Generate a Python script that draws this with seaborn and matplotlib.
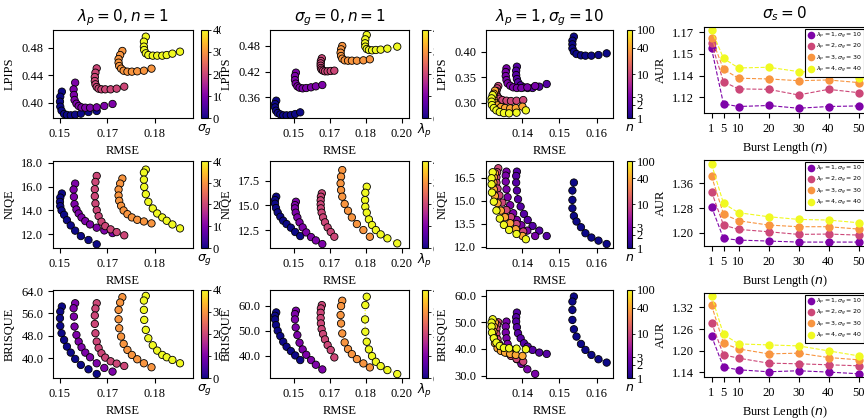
import numpy as np
import pandas as pd
import matplotlib
matplotlib.use("Agg")
import matplotlib.pyplot as plt
import seaborn as sns
from matplotlib.colors import LogNorm, Normalize
from matplotlib.lines import Line2D
from matplotlib.cm import ScalarMappable
from matplotlib.transforms import Bbox, TransformedBbox
from matplotlib.ticker import NullLocator

# ---------------- data: column 1 (sigma_g sweep, lambda_p=0, n=1) ----------------
SIGMA_G = [0, 10, 20, 30, 40]
C1_RMSE = [
    [0.1506, 0.1501, 0.1500, 0.1501, 0.1505, 0.1513, 0.1522, 0.1534, 0.1548, 0.1566, 0.1590, 0.1616],
    [0.1548, 0.1543, 0.1544, 0.1546, 0.1552, 0.1559, 0.1568, 0.1580, 0.1595, 0.1616, 0.1640, 0.1666],
    [0.1616, 0.1612, 0.1610, 0.1610, 0.1612, 0.1616, 0.1622, 0.1631, 0.1643, 0.1660, 0.1679, 0.1703],
    [0.1697, 0.1690, 0.1685, 0.1685, 0.1687, 0.1693, 0.1701, 0.1713, 0.1727, 0.1744, 0.1765, 0.1789],
    [0.1771, 0.1765, 0.1765, 0.1766, 0.1771, 0.1779, 0.1793, 0.1807, 0.1823, 0.1837, 0.1855, 0.1879],
]
C1_LPIPS = [
    [0.4160, 0.4087, 0.4015, 0.3942, 0.3884, 0.3835, 0.3821, 0.3816, 0.3825, 0.3840, 0.3864, 0.3879],
    [0.4291, 0.4194, 0.4112, 0.4039, 0.3985, 0.3952, 0.3932, 0.3927, 0.3927, 0.3932, 0.3952, 0.3981],
    [0.4499, 0.4436, 0.4373, 0.4315, 0.4267, 0.4228, 0.4204, 0.4194, 0.4194, 0.4194, 0.4204, 0.4233],
    [0.4752, 0.4693, 0.4635, 0.4582, 0.4533, 0.4495, 0.4465, 0.4451, 0.4451, 0.4456, 0.4465, 0.4495],
    [0.4960, 0.4887, 0.4815, 0.4766, 0.4718, 0.4693, 0.4684, 0.4684, 0.4684, 0.4693, 0.4713, 0.4742],
]
C1_NIQE = [
    [15.42, 15.08, 14.72, 14.36, 14.00, 13.64, 13.19, 12.75, 12.31, 11.86, 11.53, 11.17],
    [16.25, 15.75, 15.14, 14.53, 14.08, 13.75, 13.42, 13.11, 12.83, 12.56, 12.33, 12.11],
    [16.89, 16.39, 15.78, 15.19, 14.58, 14.03, 13.53, 13.06, 12.69, 12.42, 12.19, 11.92],
    [16.67, 16.25, 15.75, 15.25, 14.81, 14.39, 14.00, 13.69, 13.42, 13.22, 13.08, 12.92],
    [17.42, 17.17, 16.58, 15.97, 15.36, 14.72, 14.17, 13.75, 13.42, 13.14, 12.83, 12.50],
]
C1_BRISQUE = [
    [58.45, 56.67, 54.29, 51.55, 48.93, 46.55, 44.17, 42.02, 39.76, 37.62, 36.07, 34.40],
    [59.64, 57.86, 54.88, 51.31, 48.33, 45.95, 43.93, 42.02, 40.36, 38.21, 36.55, 35.24],
    [59.64, 57.74, 55.24, 52.26, 48.93, 45.95, 43.69, 41.79, 40.24, 38.93, 38.10, 37.26],
    [61.79, 59.88, 57.26, 53.93, 50.71, 47.74, 45.12, 42.98, 41.19, 39.64, 38.21, 36.79],
    [62.26, 60.60, 57.26, 53.69, 50.12, 47.14, 44.64, 42.74, 41.19, 40.36, 39.40, 38.21],
]

# ---------------- data: column 2 (lambda_p sweep, sigma_g=0, n=1) ----------------
LAMBDA_P = [0, 1, 2, 3, 4]
C2_RMSE = [
    [0.1427, 0.1422, 0.1422, 0.1426, 0.1433, 0.1444, 0.1456, 0.1470, 0.1488, 0.1506, 0.1527],
    [0.1509, 0.1505, 0.1505, 0.1508, 0.1515, 0.1524, 0.1537, 0.1552, 0.1572, 0.1592, 0.1619],
    [0.1617, 0.1613, 0.1612, 0.1612, 0.1613, 0.1616, 0.1622, 0.1630, 0.1641, 0.1654, 0.1669],
    [0.1702, 0.1697, 0.1695, 0.1697, 0.1702, 0.1712, 0.1726, 0.1742, 0.1763, 0.1790, 0.1817],
    [0.1804, 0.1798, 0.1797, 0.1798, 0.1804, 0.1813, 0.1826, 0.1842, 0.1862, 0.1890, 0.1931],
]
C2_LPIPS = [
    [0.3522, 0.3444, 0.3366, 0.3288, 0.3234, 0.3202, 0.3179, 0.3179, 0.3187, 0.3210, 0.3249],
    [0.4177, 0.4099, 0.4005, 0.3920, 0.3857, 0.3826, 0.3810, 0.3818, 0.3834, 0.3857, 0.3888],
    [0.4512, 0.4450, 0.4395, 0.4340, 0.4286, 0.4247, 0.4224, 0.4208, 0.4208, 0.4216, 0.4224],
    [0.4800, 0.4722, 0.4644, 0.4566, 0.4504, 0.4465, 0.4457, 0.4457, 0.4457, 0.4465, 0.4489],
    [0.5058, 0.4956, 0.4863, 0.4785, 0.4730, 0.4707, 0.4699, 0.4707, 0.4715, 0.4738, 0.4785],
]
C2_NIQE = [
    [15.88, 15.54, 15.17, 14.73, 14.29, 13.85, 13.45, 13.11, 12.74, 12.30, 11.89],
    [15.37, 15.03, 14.70, 14.26, 13.78, 13.28, 12.77, 12.26, 11.79, 11.45, 11.08],
    [16.22, 15.88, 15.51, 15.10, 14.70, 14.26, 13.78, 13.28, 12.77, 12.30, 11.82],
    [18.58, 17.91, 17.23, 16.55, 15.88, 15.14, 14.46, 13.78, 13.11, 12.50, 11.82],
    [16.89, 16.28, 15.54, 14.86, 14.26, 13.58, 13.01, 12.50, 12.06, 11.66, 11.15],
]
C2_BRISQUE = [
    [57.33, 56.00, 54.53, 52.27, 50.00, 47.87, 45.60, 43.60, 41.87, 40.13, 38.27],
    [58.00, 56.67, 54.53, 51.33, 48.27, 45.20, 42.53, 40.40, 38.27, 36.40, 34.53],
    [60.27, 58.93, 57.20, 55.07, 52.93, 50.67, 48.67, 46.53, 44.27, 42.27, 39.33],
    [62.00, 59.87, 56.27, 52.93, 48.93, 45.33, 42.67, 40.67, 38.67, 36.93, 35.33],
    [63.60, 60.27, 54.53, 49.60, 45.60, 42.53, 39.87, 37.60, 35.87, 34.27, 32.67],
]

# ---------------- data: column 3 (burst length sweep, lambda_p=1, sigma_g=10) ----------------
BURST_N = [1, 2, 3, 10, 40, 100]
C3_RMSE = [
    [0.1539, 0.1535, 0.1535, 0.1535, 0.1539, 0.1546, 0.1558, 0.1570, 0.1586, 0.1605, 0.1627],
    [0.1386, 0.1384, 0.1384, 0.1386, 0.1389, 0.1396, 0.1405, 0.1415, 0.1428, 0.1446, 0.1466],
    [0.1358, 0.1356, 0.1356, 0.1358, 0.1361, 0.1368, 0.1376, 0.1386, 0.1398, 0.1414, 0.1435],
    [0.1336, 0.1333, 0.1331, 0.1331, 0.1334, 0.1339, 0.1347, 0.1358, 0.1370, 0.1385, 0.1403],
    [0.1327, 0.1324, 0.1323, 0.1324, 0.1327, 0.1334, 0.1343, 0.1354, 0.1368, 0.1383, 0.1401],
    [0.1321, 0.1318, 0.1318, 0.1319, 0.1324, 0.1331, 0.1340, 0.1351, 0.1365, 0.1385, 0.1410],
]
C3_LPIPS = [
    [0.4294, 0.4216, 0.4144, 0.4065, 0.4000, 0.3954, 0.3928, 0.3922, 0.3922, 0.3935, 0.3967],
    [0.3706, 0.3627, 0.3542, 0.3464, 0.3399, 0.3340, 0.3301, 0.3288, 0.3288, 0.3314, 0.3366],
    [0.3673, 0.3601, 0.3523, 0.3444, 0.3379, 0.3333, 0.3301, 0.3288, 0.3288, 0.3301, 0.3327],
    [0.3327, 0.3281, 0.3229, 0.3170, 0.3118, 0.3078, 0.3052, 0.3039, 0.3033, 0.3039, 0.3052],
    [0.3235, 0.3176, 0.3118, 0.3052, 0.2993, 0.2948, 0.2915, 0.2895, 0.2889, 0.2895, 0.2922],
    [0.3150, 0.3085, 0.3020, 0.2954, 0.2895, 0.2850, 0.2817, 0.2797, 0.2791, 0.2804, 0.2850],
]
C3_NIQE = [
    [16.18, 15.66, 15.05, 14.51, 14.01, 13.65, 13.28, 12.89, 12.61, 12.41, 12.19],
    [16.89, 16.61, 16.18, 15.66, 15.10, 14.62, 14.14, 13.75, 13.36, 13.06, 12.71],
    [16.89, 16.63, 16.24, 15.74, 15.23, 14.71, 14.19, 13.75, 13.41, 13.06, 12.71],
    [17.11, 16.85, 16.52, 16.18, 15.79, 15.35, 14.88, 14.40, 13.93, 13.49, 13.00],
    [16.78, 16.52, 16.18, 15.74, 15.31, 14.84, 14.36, 13.93, 13.54, 13.15, 12.71],
    [16.85, 16.46, 16.07, 15.53, 14.94, 14.36, 13.84, 13.43, 13.10, 12.84, 12.50],
]
C3_BRISQUE = [
    [59.63, 57.75, 54.63, 50.88, 47.38, 44.63, 41.88, 39.63, 37.75, 36.13, 34.88],
    [53.63, 51.88, 50.25, 48.13, 45.88, 44.00, 42.13, 40.88, 39.63, 38.63, 38.13],
    [50.25, 48.38, 46.13, 44.00, 41.88, 39.88, 38.13, 36.13, 34.38, 32.38, 30.63],
    [50.00, 49.00, 47.50, 45.63, 43.63, 41.75, 40.00, 38.63, 37.38, 36.25, 35.25],
    [49.88, 48.38, 46.50, 44.38, 42.13, 40.25, 39.25, 38.63, 38.13, 37.75, 37.38],
    [51.13, 49.88, 48.38, 46.13, 44.00, 42.38, 41.13, 40.38, 40.25, 40.13, 39.88],
]

# ---------------- data: column 4 (AUR vs burst length, sigma_s=0) ----------------
BURST_LEN = [1, 5, 10, 20, 30, 40, 50]
AUR_SIGMA_G = [10, 20, 30, 40]
AUR_LABELS = [r"$\lambda_p = 1, \sigma_g = 10$", r"$\lambda_p = 2, \sigma_g = 20$",
              r"$\lambda_p = 3, \sigma_g = 30$", r"$\lambda_p = 4, \sigma_g = 40$"]
AUR_LPIPS = [
    [1.1539, 1.1154, 1.1136, 1.1143, 1.1124, 1.1136, 1.1140],
    [1.1574, 1.1308, 1.1258, 1.1255, 1.1216, 1.1255, 1.1232],
    [1.1613, 1.1394, 1.1332, 1.1327, 1.1315, 1.1320, 1.1302],
    [1.1666, 1.1470, 1.1403, 1.1408, 1.1378, 1.1371, 1.1336],
]
AUR_NIQE = [
    [1.2843, 1.1816, 1.1762, 1.1730, 1.1697, 1.1697, 1.1697],
    [1.3330, 1.2249, 1.2108, 1.2032, 1.1946, 1.1957, 1.1924],
    [1.3838, 1.2605, 1.2389, 1.2249, 1.2195, 1.2195, 1.2119],
    [1.4227, 1.2951, 1.2649, 1.2519, 1.2432, 1.2411, 1.2324],
]
AUR_BRISQUE = [
    [1.2410, 1.1547, 1.1473, 1.1418, 1.1446, 1.1409, 1.1363],
    [1.2777, 1.1887, 1.1795, 1.1657, 1.1639, 1.1611, 1.1584],
    [1.3264, 1.2208, 1.2052, 1.1914, 1.1933, 1.1813, 1.1749],
    [1.3521, 1.2456, 1.2190, 1.2162, 1.2135, 1.1997, 1.1859],
]

# ---------------- tick labels ----------------
C1_XTICKS = ([0.15, 0.165, 0.18], ["0.15", "0.17", "0.18"])
C2_XTICKS = ([0.15, 0.165, 0.18, 0.195], ["0.15", "0.17", "0.18", "0.20"])
C3_XTICKS = ([0.14, 0.15, 0.16], ["0.14", "0.15", "0.16"])
C1_YTICKS = [([0.40, 0.44, 0.48], ["0.40", "0.44", "0.48"]),
             ([12, 14, 16, 18], ["12.0", "14.0", "16.0", "18.0"]),
             ([40, 48, 56, 64], ["40.0", "48.0", "56.0", "64.0"])]
C2_YTICKS = [([0.36, 0.42, 0.48], ["0.36", "0.42", "0.48"]),
             ([12.5, 15, 17.5], ["12.5", "15.0", "17.5"]),
             ([40, 50, 60], ["40.0", "50.0", "60.0"])]
C3_YTICKS = [([0.30, 0.35, 0.40], ["0.30", "0.35", "0.40"]),
             ([12, 13.5, 15, 16.5], ["12.0", "13.5", "15.0", "16.5"]),
             ([30, 40, 50, 60], ["30.0", "40.0", "50.0", "60.0"])]
C4_YTICKS = [([1.12, 1.135, 1.15, 1.165], ["1.12", "1.14", "1.15", "1.17"]),
             ([1.20, 1.28, 1.36], ["1.20", "1.28", "1.36"]),
             ([1.14, 1.20, 1.26, 1.32], ["1.14", "1.20", "1.26", "1.32"])]
CB1_TICKS = [0, 10, 20, 30, 40]
CB2_TICKS = [0, 1, 2, 3, 4]
CB3_TICKS = [1, 2, 3, 10, 40, 100]
METRICS = ["LPIPS", "NIQE", "BRISQUE"]

# ---------------- style ----------------
sns.set_theme(style="white")
plt.rcParams.update({
    "font.family": ["Liberation Serif", "DejaVu Serif"],
    "mathtext.fontset": "dejavusans",
    "font.size": 9,
    "axes.edgecolor": "black",
    "axes.linewidth": 0.8,
    "axes.labelcolor": "black",
    "text.color": "black",
    "xtick.color": "black",
    "ytick.color": "black",
    "xtick.bottom": True,
    "ytick.left": True,
    "xtick.major.size": 3.5,
    "ytick.major.size": 3.5,
    "xtick.major.width": 0.8,
    "ytick.major.width": 0.8,
    "xtick.labelsize": 9,
    "ytick.labelsize": 9,
    "axes.labelsize": 9,
})

W, H = 864, 419
fig = plt.figure(figsize=(W / 100, H / 100), dpi=100)
cmap = plt.get_cmap("plasma")


def rect(x0, x1, y0, y1):
    return [x0 / W, 1 - y1 / H, (x1 - x0) / W, (y1 - y0) / H]


ROWS = [(30, 118), (161, 248), (290, 378)]
ROWS4 = [(27, 113), (160, 246), (293, 377)]
COLS = [(53, 193), (270, 409), (486, 613)]
CBARS = [(201, 208), (422, 428), (627, 632)]
CB_CLIP = [221, 434, None]

XLIMS = [(0.1478, 0.1920), (0.1401, 0.1980), (0.1303, 0.1644)]
YLIMS = [
    [(0.3777, 0.5057), (10.86, 18.14), (32.96, 64.36)],
    [(0.3117, 0.5174), (10.68, 19.5), (31.1, 66.3)],
    [(0.270, 0.4425), (11.93, 17.58), (29.1, 62.1)],
]
Y4LIMS = [(1.1091, 1.1687), (1.157, 1.4357), (1.1273, 1.360)]

columns = [
    dict(hues=SIGMA_G, rmse=C1_RMSE, vals=[C1_LPIPS, C1_NIQE, C1_BRISQUE],
         norm=Normalize(0, 40), xt=C1_XTICKS, yt=C1_YTICKS, cbt=CB1_TICKS,
         cbl=r"$\sigma_g$", title=r"$\lambda_p = 0, n = 1$"),
    dict(hues=LAMBDA_P, rmse=C2_RMSE, vals=[C2_LPIPS, C2_NIQE, C2_BRISQUE],
         norm=Normalize(0, 4), xt=C2_XTICKS, yt=C2_YTICKS, cbt=CB2_TICKS,
         cbl=r"$\lambda_p$", title=r"$\sigma_g = 0, n = 1$"),
    dict(hues=BURST_N, rmse=C3_RMSE, vals=[C3_LPIPS, C3_NIQE, C3_BRISQUE],
         norm=LogNorm(1, 100), xt=C3_XTICKS, yt=C3_YTICKS, cbt=CB3_TICKS,
         cbl=r"$n$", title=r"$\lambda_p = 1,\sigma_g = 10$"),
]

for ci, col in enumerate(columns):
    for ri in range(3):
        ax = fig.add_axes(rect(COLS[ci][0], COLS[ci][1], ROWS[ri][0], ROWS[ri][1]))
        recs = []
        for h, xs, ys in zip(col["hues"], col["rmse"], col["vals"][ri]):
            ax.plot(xs, ys, ls=":", lw=0.9, color=cmap(col["norm"](h)), zorder=1)
            for x, y in zip(xs, ys):
                recs.append((h, x, y))
        df = pd.DataFrame(recs, columns=["hue", "RMSE", "val"])
        sns.scatterplot(data=df, x="RMSE", y="val", hue="hue", hue_norm=col["norm"],
                        palette="plasma", s=28, edgecolor="black", linewidth=0.6,
                        legend=False, ax=ax, zorder=2)
        ax.set_xlim(*XLIMS[ci])
        ax.set_ylim(*YLIMS[ci][ri])
        ax.set_xticks(col["xt"][0], col["xt"][1])
        ax.set_yticks(col["yt"][ri][0], col["yt"][ri][1])
        ax.set_xlabel("RMSE")
        ax.set_ylabel(METRICS[ri])
        for sp in ax.spines.values():
            sp.set_color("black")
            sp.set_linewidth(0.8)
        if ri == 0:
            ax.set_title(col["title"], fontsize=11)

        # colorbar
        cax = fig.add_axes(rect(CBARS[ci][0], CBARS[ci][1], ROWS[ri][0], ROWS[ri][1]))
        sm = ScalarMappable(norm=col["norm"], cmap="plasma")
        cb = fig.colorbar(sm, cax=cax)
        cb.set_ticks(col["cbt"], labels=[str(t) for t in col["cbt"]])
        cb.ax.yaxis.set_minor_locator(NullLocator())
        cb.ax.tick_params(labelsize=9, length=2, width=0.6, pad=1.5)
        cb.outline.set_linewidth(0.8)
        cb.ax.set_xlabel(col["cbl"], fontsize=9, labelpad=3)
        if CB_CLIP[ci] is not None:
            clip = TransformedBbox(Bbox([[0, 0], [CB_CLIP[ci] / W, 1]]), fig.transFigure)
            for lbl in cb.ax.get_yticklabels():
                lbl.set_clip_box(clip)
                lbl.set_clip_on(True)

# ---------------- column 4 ----------------
aur_sets = [AUR_LPIPS, AUR_NIQE, AUR_BRISQUE]
colors4 = [cmap(g / 40) for g in AUR_SIGMA_G]
for ri in range(3):
    ax = fig.add_axes(rect(704, 866, ROWS4[ri][0], ROWS4[ri][1]))
    recs = []
    for lab, ys in zip(AUR_LABELS, aur_sets[ri]):
        for n, y in zip(BURST_LEN, ys):
            recs.append((lab, n, y))
    df = pd.DataFrame(recs, columns=["setting", "n", "AUR"])
    sns.lineplot(data=df, x="n", y="AUR", hue="setting", hue_order=AUR_LABELS,
                 palette=colors4, marker="o", markersize=6, markeredgewidth=0,
                 linestyle="--", linewidth=0.8, legend=False, ax=ax, sort=False)
    ax.set_xlim(-1.5, 52.5)
    ax.set_ylim(*Y4LIMS[ri])
    ax.set_xticks(BURST_LEN, [str(b) for b in BURST_LEN])
    ax.set_yticks(C4_YTICKS[ri][0], C4_YTICKS[ri][1])
    ax.set_xlabel(r"Burst Length ($n$)")
    ax.set_ylabel("AUR")
    for sp in ax.spines.values():
        sp.set_color("black")
        sp.set_linewidth(0.8)
    handles = [Line2D([], [], marker="o", linestyle="none", color=c, markersize=5.5,
                      markeredgewidth=0) for c in colors4]
    leg = ax.legend(handles, AUR_LABELS, loc="upper right", fontsize=4.5,
                    frameon=True, fancybox=False, edgecolor="black", framealpha=1,
                    borderaxespad=0.35, handletextpad=0.3, labelspacing=0.15,
                    borderpad=0.3, handlelength=1.2)
    leg.get_frame().set_linewidth(0.8)
    if ri == 0:
        ax.set_title(r"$\sigma_s = 0$", fontsize=11)

fig.savefig("out.png", dpi=100)
